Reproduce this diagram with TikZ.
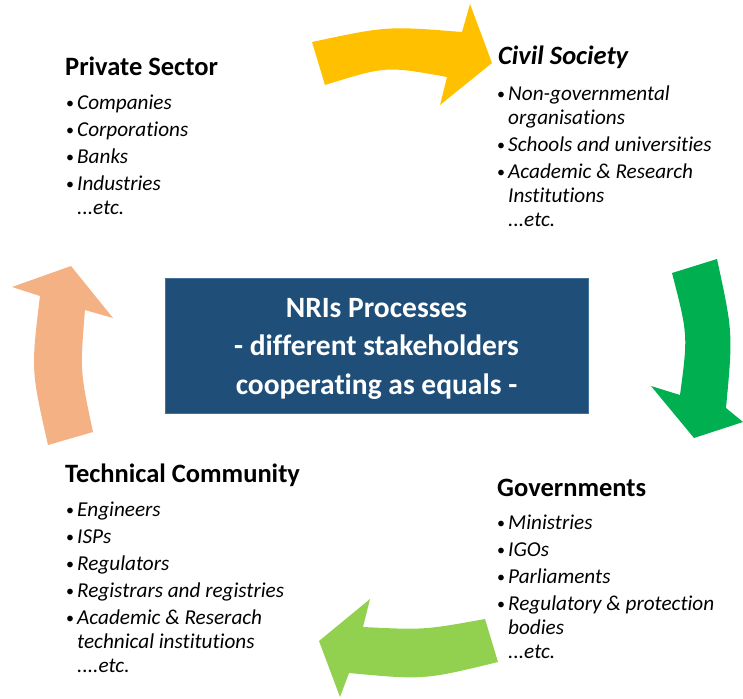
\documentclass[tikz,border=0pt]{standalone}
\usepackage{fontspec}
\setmainfont{Carlito}[Ligatures=CommonOff]
\usetikzlibrary{positioning}

\definecolor{nriblue}{HTML}{1F4E79}
\definecolor{nririm}{HTML}{41719C}
\definecolor{arrowyellow}{HTML}{FFC000}
\definecolor{arrowgreen}{HTML}{00B050}
\definecolor{arrowlime}{HTML}{92D050}
\definecolor{arroworange}{HTML}{F4B183}

\newcommand{\blt}{\makebox[11pt][l]{\raisebox{1.5pt}{\upshape\fontsize{16}{16}\selectfont\textbullet}}}
\newcommand{\hang}{\hspace*{11pt}}

\begin{document}
\begin{tikzpicture}[x=1pt,y=-1pt,
	heading/.style={font=\fontsize{26.5}{30}\selectfont\bfseries,anchor=base west,inner sep=0pt},
	itemlist/.style={font=\fontsize{21.2}{24}\selectfont\itshape,align=left,anchor=north west,inner sep=0pt},
	hub/.style={draw=nririm,line width=1pt,fill=nriblue,text=white,align=center,
		font=\fontsize{29.5}{38.5}\selectfont\bfseries,minimum width=423pt,minimum height=135pt}]

	\useasboundingbox (0,0) rectangle (743,698);

	% block arrows round the hub
	\fill[arrowyellow] (312,42) .. controls (387,26) .. (462,32) -- (470,4) -- (492,63)
		-- (440,105) -- (447,77) .. controls (386,66) .. (325,85) -- cycle;
	\fill[arrowgreen] (672,273) -- (717,259) .. controls (733,333) .. (726,408) -- (743,422)
		-- (694,438) -- (651,386) -- (680,395) .. controls (688,335) .. (672,273) -- cycle;
	\fill[arrowlime] (485,619) .. controls (424,630) .. (363,627) -- (370,599) -- (319,641)
		-- (340,697) -- (349,673) .. controls (424,680) .. (498,662) -- cycle;
	\fill[arroworange] (48,445) .. controls (31,370) .. (40,296) -- (12,287) -- (71,266)
		-- (113,318) -- (85,310) .. controls (80,371) .. (93,432) -- cycle;

	\node[hub] (nri) at (376.5,345.5) {\rule{0pt}{25pt}NRIs Processes\\- different stakeholders\\cooperating as equals -};

	\node[heading] (private) at (65,76) {Private Sector};
	\node[itemlist] (privatelist) at (66,95) {\blt Companies\\[3pt]\blt Corporations\\[3pt]\blt Banks\\[3pt]\blt Industries\\\hang ...etc.};

	\node[heading,font=\fontsize{26.5}{30}\selectfont\bfseries\itshape] (civil) at (498,65) {Civil Society};
	\node[itemlist] (civillist) at (497,86) {\blt Non-governmental\\\hang organisations\\[3pt]\blt Schools and universities\\[3pt]\blt Academic \& Research\\\hang Institutions\\\hang ...etc.};

	\node[heading] (gov) at (497,496) {Governments};
	\node[itemlist] (govlist) at (497,515) {\blt Ministries\\[3pt]\blt IGOs\\[3pt]\blt Parliaments\\[3pt]\blt Regulatory \& protection\\\hang bodies\\\hang ...etc.};

	\node[heading] (tech) at (65,482) {Technical Community};
	\node[itemlist] (techlist) at (66,502) {\blt Engineers\\[3pt]\blt ISPs\\[3pt]\blt Regulators\\[3pt]\blt Registrars and registries\\[3pt]\blt Academic \& Reserach\\\hang technical institutions\\\hang ....etc.};
\end{tikzpicture}
\end{document}
